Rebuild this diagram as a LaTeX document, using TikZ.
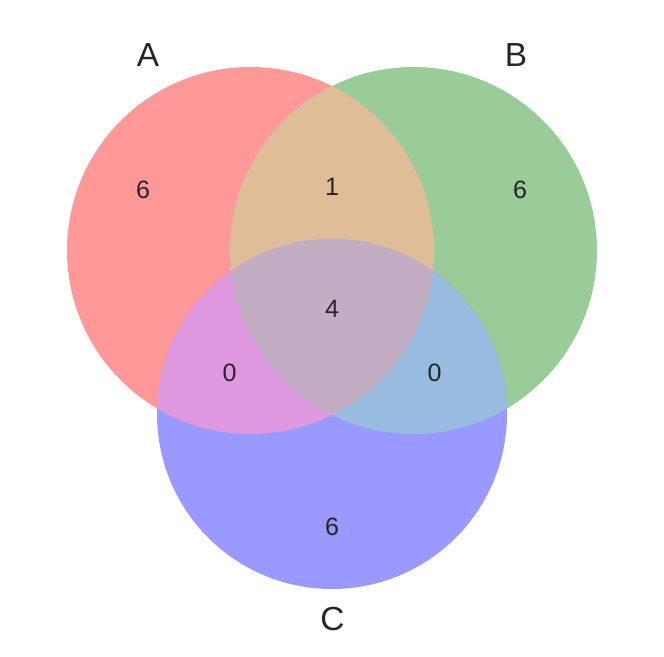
\documentclass[tikz,border=0pt]{standalone}
\usepackage{fontspec}
\setmainfont{Liberation Sans}
\usepackage{tikz}
\usetikzlibrary{positioning}
\definecolor{vnInk}{RGB}{38,38,38}
\definecolor{vnA}{RGB}{255,153,153}
\definecolor{vnB}{RGB}{153,204,153}
\definecolor{vnC}{RGB}{153,153,255}
\definecolor{vnAB}{RGB}{224,189,153}
\definecolor{vnAC}{RGB}{224,153,224}
\definecolor{vnBC}{RGB}{153,189,224}
\definecolor{vnABC}{RGB}{194,173,194}
\begin{document}
\begin{tikzpicture}[
    x=0.02cm, y=-0.02cm,
    setlbl/.style ={text=vnInk, font=\fontsize{19}{22}\selectfont, inner sep=0pt},
    cnt/.style    ={text=vnInk, font=\fontsize{14.3}{17}\selectfont, inner sep=0pt},
]
\useasboundingbox (0,0) rectangle (664,657);

% ---- Set centres ----
\coordinate (cA) at (250.5,250.5);
\coordinate (cB) at (413.5,250.5);
\coordinate (cC) at (332,414);

% ---- Single-set regions ----
\fill[vnA] (cA) circle [radius=183.5];
\fill[vnB] (cB) circle [radius=183.5];
\fill[vnC] (cC) circle [radius=175];

% ---- Pairwise overlaps ----
\begin{scope}
  \clip (cA) circle [radius=183.5];
  \fill[vnAB] (cB) circle [radius=183.5];
  \fill[vnAC] (cC) circle [radius=175];
\end{scope}
\begin{scope}
  \clip (cB) circle [radius=183.5];
  \fill[vnBC] (cC) circle [radius=175];
\end{scope}

% ---- Triple overlap ----
\begin{scope}
  \clip (cA) circle [radius=183.5];
  \clip (cB) circle [radius=183.5];
  \fill[vnABC] (cC) circle [radius=175];
\end{scope}

% ---- Set labels ----
\node[setlbl] (labA) at (148,55) {A};
\node[setlbl] (labB) at (516,55) {B};
\node[setlbl] (labC) at (332.5,619) {C};

% ---- Region counts ----
\node[cnt] (nA)   at (143,190)   {6};
\node[cnt] (nB)   at (520,190)   {6};
\node[cnt] (nC)   at (332,526.5) {6};
\node[cnt] (nAB)  at (332,186.5) {1};
\node[cnt] (nAC)  at (229.5,372.5) {0};
\node[cnt] (nBC)  at (434.5,372.5) {0};
\node[cnt] (nABC) at (332,308.5) {4};

\end{tikzpicture}
\end{document}
